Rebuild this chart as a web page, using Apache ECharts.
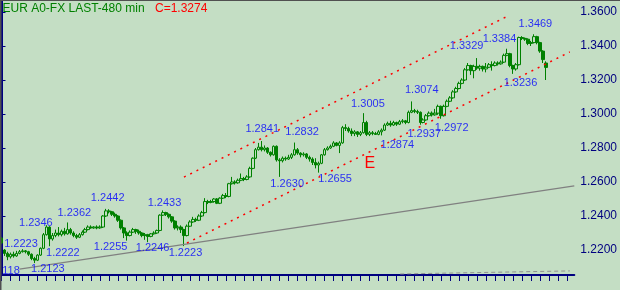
<!DOCTYPE html>
<html><head><meta charset="utf-8">
<script src="https://cdn.jsdelivr.net/npm/echarts@6/dist/echarts.min.js"></script>
<style>html,body{margin:0;padding:0;background:#c4dec4}#c{width:620px;height:290px}</style>
</head><body><div id="c"></div>
<script>
// ---- data ----
const opens = [1.2270,1.2200,1.2180,1.2160,1.2175,1.2165,1.2180,1.2190,1.2195,1.2190,1.2175,1.2150,1.2140,1.2170,1.2210,1.2290,1.2335,1.2265,1.2285,1.2300,1.2290,1.2310,1.2295,1.2320,1.2300,1.2285,1.2275,1.2290,1.2305,1.2320,1.2335,1.2330,1.2335,1.2330,1.2335,1.2400,1.2430,1.2425,1.2410,1.2400,1.2375,1.2330,1.2300,1.2285,1.2305,1.2320,1.2310,1.2300,1.2285,1.2290,1.2280,1.2295,1.2300,1.2315,1.2405,1.2420,1.2410,1.2395,1.2370,1.2330,1.2335,1.2320,1.2285,1.2340,1.2365,1.2380,1.2375,1.2400,1.2420,1.2485,1.2480,1.2485,1.2500,1.2475,1.2505,1.2520,1.2515,1.2590,1.2600,1.2595,1.2610,1.2620,1.2615,1.2630,1.2680,1.2740,1.2790,1.2805,1.2790,1.2800,1.2775,1.2760,1.2810,1.2730,1.2725,1.2740,1.2735,1.2745,1.2760,1.2790,1.2770,1.2760,1.2765,1.2745,1.2735,1.2715,1.2700,1.2710,1.2760,1.2790,1.2800,1.2810,1.2830,1.2815,1.2830,1.2920,1.2915,1.2900,1.2885,1.2895,1.2880,1.2890,1.2950,1.2880,1.2890,1.2885,1.2880,1.2895,1.2905,1.2935,1.2945,1.2935,1.2950,1.2940,1.2955,1.2960,1.2950,1.3010,1.3020,1.3015,1.3010,1.2950,1.2965,1.2990,1.3005,1.2995,1.3005,1.3045,1.2990,1.3045,1.3075,1.3095,1.3130,1.3150,1.3180,1.3200,1.3260,1.3285,1.3255,1.3280,1.3270,1.3280,1.3265,1.3275,1.3290,1.3285,1.3300,1.3295,1.3305,1.3345,1.3355,1.3285,1.3265,1.3290,1.3450,1.3445,1.3440,1.3415,1.3420,1.3455,1.3420,1.3370,1.3300];
const closes = [1.2241,1.2180,1.2160,1.2175,1.2165,1.2180,1.2190,1.2195,1.2190,1.2175,1.2150,1.2140,1.2170,1.2210,1.2290,1.2335,1.2265,1.2285,1.2300,1.2290,1.2310,1.2295,1.2320,1.2300,1.2285,1.2275,1.2290,1.2305,1.2320,1.2335,1.2330,1.2335,1.2330,1.2335,1.2400,1.2430,1.2425,1.2410,1.2400,1.2375,1.2330,1.2300,1.2285,1.2305,1.2320,1.2310,1.2300,1.2285,1.2290,1.2280,1.2295,1.2300,1.2315,1.2405,1.2420,1.2410,1.2395,1.2370,1.2330,1.2335,1.2320,1.2285,1.2340,1.2365,1.2380,1.2375,1.2400,1.2420,1.2485,1.2480,1.2485,1.2500,1.2475,1.2505,1.2520,1.2515,1.2590,1.2600,1.2595,1.2610,1.2620,1.2615,1.2630,1.2680,1.2740,1.2790,1.2805,1.2790,1.2800,1.2775,1.2760,1.2810,1.2730,1.2725,1.2740,1.2735,1.2745,1.2760,1.2790,1.2770,1.2760,1.2765,1.2745,1.2735,1.2715,1.2700,1.2710,1.2760,1.2790,1.2800,1.2810,1.2830,1.2815,1.2830,1.2920,1.2915,1.2900,1.2885,1.2895,1.2880,1.2890,1.2950,1.2880,1.2890,1.2885,1.2880,1.2895,1.2905,1.2935,1.2945,1.2935,1.2950,1.2940,1.2955,1.2960,1.2950,1.3010,1.3020,1.3015,1.3010,1.2950,1.2965,1.2990,1.3005,1.2995,1.3005,1.3045,1.2990,1.3045,1.3075,1.3095,1.3130,1.3150,1.3180,1.3200,1.3260,1.3285,1.3255,1.3280,1.3270,1.3280,1.3265,1.3275,1.3290,1.3285,1.3300,1.3295,1.3305,1.3345,1.3355,1.3285,1.3265,1.3290,1.3450,1.3445,1.3440,1.3415,1.3420,1.3455,1.3420,1.3370,1.3320,1.3274];
const lows = [1.2235,1.2165,1.2140,1.2150,1.2155,1.2160,1.2175,1.2185,1.2180,1.2165,1.2140,1.2123,1.2135,1.2165,1.2205,1.2285,1.2222,1.2255,1.2275,1.2280,1.2280,1.2285,1.2290,1.2290,1.2275,1.2265,1.2270,1.2285,1.2300,1.2315,1.2325,1.2325,1.2322,1.2325,1.2330,1.2395,1.2415,1.2400,1.2390,1.2365,1.2320,1.2270,1.2255,1.2280,1.2300,1.2295,1.2290,1.2275,1.2260,1.2246,1.2275,1.2290,1.2295,1.2310,1.2400,1.2400,1.2385,1.2360,1.2320,1.2315,1.2300,1.2223,1.2280,1.2335,1.2360,1.2365,1.2370,1.2395,1.2415,1.2470,1.2475,1.2478,1.2470,1.2470,1.2500,1.2505,1.2510,1.2585,1.2585,1.2590,1.2605,1.2605,1.2610,1.2625,1.2675,1.2735,1.2785,1.2780,1.2780,1.2765,1.2750,1.2755,1.2720,1.2630,1.2715,1.2725,1.2730,1.2735,1.2755,1.2760,1.2745,1.2750,1.2735,1.2720,1.2700,1.2680,1.2655,1.2705,1.2755,1.2785,1.2795,1.2805,1.2810,1.2770,1.2825,1.2900,1.2890,1.2870,1.2870,1.2865,1.2870,1.2885,1.2870,1.2870,1.2875,1.2878,1.2875,1.2874,1.2900,1.2930,1.2925,1.2930,1.2930,1.2935,1.2945,1.2940,1.2945,1.3005,1.3005,1.3000,1.2937,1.2945,1.2960,1.2985,1.2985,1.2990,1.2995,1.2972,1.2985,1.3040,1.3070,1.3090,1.3125,1.3145,1.3175,1.3195,1.3255,1.3230,1.3210,1.3260,1.3255,1.3250,1.3245,1.3270,1.3255,1.3280,1.3285,1.3290,1.3300,1.3340,1.3275,1.3236,1.3255,1.3285,1.3435,1.3430,1.3405,1.3400,1.3415,1.3410,1.3360,1.3300,1.3200];
const highs = [1.2276,1.2205,1.2190,1.2185,1.2190,1.2195,1.2200,1.2205,1.2200,1.2195,1.2180,1.2160,1.2175,1.2215,1.2300,1.2346,1.2340,1.2300,1.2320,1.2335,1.2320,1.2330,1.2362,1.2330,1.2310,1.2295,1.2300,1.2315,1.2330,1.2345,1.2345,1.2340,1.2345,1.2345,1.2405,1.2442,1.2440,1.2430,1.2420,1.2405,1.2380,1.2335,1.2310,1.2315,1.2330,1.2325,1.2320,1.2305,1.2300,1.2295,1.2300,1.2310,1.2320,1.2410,1.2433,1.2425,1.2415,1.2400,1.2375,1.2345,1.2345,1.2325,1.2350,1.2375,1.2395,1.2390,1.2410,1.2430,1.2505,1.2495,1.2495,1.2505,1.2505,1.2510,1.2530,1.2535,1.2595,1.2630,1.2610,1.2620,1.2650,1.2630,1.2640,1.2690,1.2745,1.2800,1.2830,1.2841,1.2815,1.2805,1.2780,1.2815,1.2815,1.2740,1.2750,1.2750,1.2760,1.2770,1.2832,1.2800,1.2775,1.2775,1.2770,1.2755,1.2745,1.2740,1.2720,1.2765,1.2800,1.2810,1.2820,1.2840,1.2835,1.2840,1.2930,1.2940,1.2925,1.2915,1.2905,1.2900,1.2900,1.3005,1.2960,1.2900,1.2900,1.2895,1.2905,1.2915,1.2945,1.2955,1.2960,1.2960,1.2955,1.2965,1.2970,1.2965,1.3020,1.3074,1.3030,1.3025,1.3015,1.2975,1.3000,1.3015,1.3015,1.3030,1.3055,1.3050,1.3055,1.3085,1.3105,1.3140,1.3160,1.3190,1.3210,1.3270,1.3300,1.3290,1.3290,1.3329,1.3290,1.3285,1.3300,1.3300,1.3310,1.3310,1.3310,1.3315,1.3355,1.3384,1.3360,1.3290,1.3300,1.3455,1.3458,1.3450,1.3445,1.3430,1.3469,1.3460,1.3425,1.3375,1.3310];

const yTicks = [1.22, 1.24, 1.26, 1.28, 1.30, 1.32, 1.34, 1.36];

// trend lines: [candle index, price]
const upperChannel = [[61, 1.2629], [168.7, 1.3571]];
const lowerChannel = [[62, 1.2241], [190, 1.3365]];
const grayTrend    = [[6, 1.2088], [191.5, 1.2577]];
const grayDashed   = [[133.3, 1.2059], [190, 1.2077]];

// swing labels
const labelTexts = ['1.2223','118','1.2123','1.2346','1.2222','1.2362','1.2442','1.2255','1.2246','1.2433','1.2223','1.2630','1.2655','1.2841','1.2832','1.3005','1.2874','1.2937','1.2972','1.3074','1.3329','1.3384','1.3469','1.3236'];
const labelIdx   = [0, 0, 11, 15, 16, 22, 35, 42, 49, 54, 61, 93, 106, 87, 98, 121, 127, 140, 147, 137, 159, 169, 178, 171];
const labelVals  = [1.2223,1.2118,1.2123,1.2346,1.2222,1.2362,1.2442,1.2255,1.2246,1.2433,1.2223,1.2630,1.2655,1.2841,1.2832,1.3005,1.2874,1.2937,1.2972,1.3074,1.3329,1.3384,1.3469,1.3236];
const labelDx    = [19.5, 9.5, 13.5, -10.5, 13.5, 7, 1.5, -16.5, 4.5, 1.5, 1.5, 7.5, 16.5, 0.5, 7.5, 4.5, 16, 4, 10.5, 10.5, -10.5, -7.5, 1.5, 7.5];
const labelDy    = [-2, 7, 6, -2, 7, -9.5, -11, 6.4, 6, -7.4, 7, 7, 6.4, -12, -10.6, -9, 9.6, 9.3, 9.2, -11.4, -12, -9.7, -10.3, 9];

// ---- chart ----
const N = 192;
const categories = Array.from({length: N}, (_, i) => String(i));
const ohlc = opens.map((o, i) => [o, closes[i], lows[i], highs[i]]);
const yMin = 1.22 - 25 / 1700, yMax = 1.36 + 11 / 1700;
const FONT = '"Liberation Sans", Arial, sans-serif';
const BG = '#c4dec4';

const chart = echarts.init(document.getElementById('c'));
chart.setOption({
  animation: false,
  backgroundColor: BG,
  grid: { left: 0, right: 44, top: 1, bottom: 15 },
  xAxis: [
    { type: 'category', data: categories, boundaryGap: true,
      axisLine: { onZero: false, lineStyle: { color: '#000080', width: 2 } },
      axisTick: { show: true, interval: 2, alignWithLabel: true, length: 6, lineStyle: { color: '#000080', width: 1 } },
      axisLabel: { show: false }, splitLine: { show: false } },
    { type: 'value', min: -0.5, max: N - 0.5, show: false }
  ],
  yAxis: {
    type: 'value', position: 'right', min: yMin, max: yMax, scale: true,
    axisLine: { show: true, lineStyle: { color: '#000080', width: 2 } },
    axisTick: { show: true, length: 4, customValues: yTicks, lineStyle: { color: '#000080', width: 1 } },
    axisLabel: { customValues: yTicks, formatter: v => v.toFixed(4), color: '#000080', fontSize: 12, fontFamily: FONT, margin: 6 },
    splitLine: { show: false }
  },
  graphic: [
    { type: 'line', shape: { x1: 0.5, y1: 0, x2: 0.5, y2: 290 }, style: { stroke: '#505050', lineWidth: 2 }, z: 100 },
    { type: 'line', shape: { x1: 0, y1: 0.5, x2: 620, y2: 0.5 }, style: { stroke: '#505050', lineWidth: 1 }, z: 100 },
    { type: 'text', left: 2.5, top: 3, style: { text: 'EUR A0-FX LAST-480 min', fill: '#008000', font: '12px ' + FONT } },
    { type: 'text', left: 155, top: 3, style: { text: 'C=1.3274', fill: '#ff0000', font: '12px ' + FONT } },
    { type: 'text', left: 364.5, top: 156, style: { text: 'E', fill: '#ff0000', font: '16px ' + FONT } }
  ],
  series: [
    { type: 'line', xAxisIndex: 1, data: grayTrend, symbol: 'none', silent: true,
      lineStyle: { color: '#808080', width: 1.2 } },
    { type: 'line', xAxisIndex: 1, data: grayDashed, symbol: 'none', silent: true,
      lineStyle: { color: '#909090', width: 1, type: [4, 3] } },
    { type: 'candlestick', xAxisIndex: 0, data: ohlc, barWidth: 3,
      itemStyle: { color: 'rgba(0,0,0,0)', color0: '#008000', borderColor: '#008000', borderColor0: '#008000', borderWidth: 1 } },
    { type: 'line', xAxisIndex: 1, data: upperChannel, symbol: 'none', silent: true, z: 4,
      lineStyle: { color: '#ff0000', width: 1.5, type: [2, 5] } },
    { type: 'line', xAxisIndex: 1, data: lowerChannel, symbol: 'none', silent: true, z: 4,
      lineStyle: { color: '#ff0000', width: 1.5, type: [2, 5] } },
    { type: 'scatter', xAxisIndex: 0, symbolSize: 1, silent: true, z: 6,
      itemStyle: { color: 'rgba(0,0,0,0)' },
      label: { show: true, position: 'inside', color: '#0000ff', fontSize: 11, fontFamily: FONT },
      data: labelIdx.map((x, i) => ({ value: [x, labelVals[i]],
        label: { formatter: labelTexts[i], offset: [labelDx[i], labelDy[i]] } })) }
  ]
});
</script></body></html>
